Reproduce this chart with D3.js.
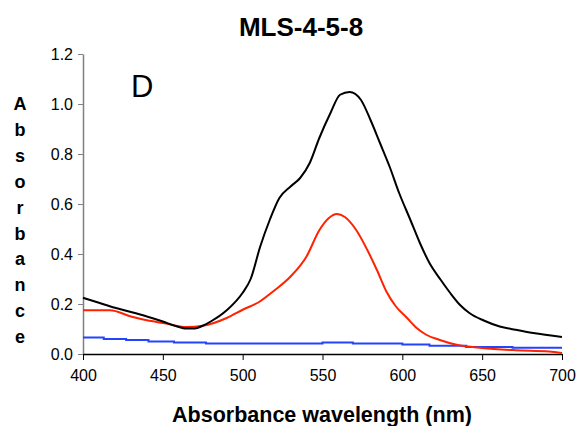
<!DOCTYPE html>
<html>
<head>
<meta charset="utf-8">
<script src="https://cdn.jsdelivr.net/npm/d3@7"></script>
<style>
  body { margin: 0; background: #fff; }
  svg { display: block; font-family: "Liberation Sans", Arial, sans-serif; }
</style>
</head>
<body>
<div id="chart"></div>
<script>
// Absorbance spectra
var blackWave = [400, 410, 420, 430, 440, 450, 458, 465, 470, 475, 480, 490, 500, 505, 511, 517, 523, 530, 536, 542, 548, 555, 561, 567, 574, 580, 586, 592, 598, 605, 611, 617, 624, 630, 636, 642, 651, 661, 671, 682, 700];
var blackAbs  = [0.225, 0.205, 0.185, 0.168, 0.15, 0.13, 0.112, 0.102, 0.102, 0.113, 0.13, 0.175, 0.245, 0.3, 0.43, 0.537, 0.624, 0.67, 0.704, 0.764, 0.864, 0.964, 1.037, 1.048, 1.017, 0.937, 0.844, 0.75, 0.644, 0.537, 0.444, 0.364, 0.297, 0.244, 0.197, 0.164, 0.134, 0.11, 0.097, 0.084, 0.068];

var redWave = [400, 410, 417, 430, 440, 450, 465, 475, 490, 500, 510, 520, 530, 540, 548, 554, 559, 564, 571, 578, 584, 590, 596, 603, 609, 615, 623, 634, 650, 671, 692, 700];
var redAbs  = [0.175, 0.175, 0.175, 0.15, 0.135, 0.124, 0.108, 0.113, 0.144, 0.177, 0.207, 0.255, 0.31, 0.39, 0.495, 0.544, 0.56, 0.548, 0.497, 0.417, 0.337, 0.25, 0.19, 0.144, 0.104, 0.077, 0.057, 0.037, 0.024, 0.015, 0.01, 0.004];

var blueWave = [400, 413, 427, 441, 457, 477, 550, 569, 600, 617, 640, 669, 700];
var blueAbs  = [0.066, 0.06, 0.056, 0.05, 0.046, 0.042, 0.046, 0.042, 0.038, 0.033, 0.028, 0.025, 0.025];

var xTicks = [400, 450, 500, 550, 600, 650, 700];
var yTicks = [0, 0.2, 0.4, 0.6, 0.8, 1.0, 1.2];
var yLetters = ['A', 'b', 's', 'o', 'r', 'b', 'a', 'n', 'c', 'e'];

// Plot frame in pixels
var W = 579, H = 426;
var LEFT = 83, RIGHT = 562, TOP = 54, BOTTOM = 354;

var svg = d3.select('#chart').append('svg')
  .attr('width', W)
  .attr('height', H);

var x = d3.scaleLinear().domain([400, 700]).range([LEFT, RIGHT]);
var y = d3.scaleLinear().domain([0, 1.2]).range([BOTTOM, TOP]);

// Y axis (grey)
var yAxis = svg.append('g')
  .attr('transform', 'translate(' + LEFT + ',0)')
  .call(d3.axisLeft(y).tickValues(yTicks).tickFormat(d3.format('.1f'))
    .tickSizeInner(5).tickSizeOuter(0).tickPadding(5));
yAxis.select('.domain').attr('stroke', '#808080').attr('stroke-width', 1.5);
yAxis.selectAll('.tick line').attr('stroke', '#808080');
yAxis.selectAll('text').attr('font-size', 16).attr('fill', '#000')
  .attr('font-family', '"Liberation Sans", Arial, sans-serif');

// X axis (black)
var xAxis = svg.append('g')
  .attr('transform', 'translate(0,' + BOTTOM + ')')
  .call(d3.axisBottom(x).tickValues(xTicks).tickFormat(d3.format('d'))
    .tickSizeInner(6).tickSizeOuter(0).tickPadding(10));
xAxis.select('.domain').attr('stroke', '#000').attr('stroke-width', 1.5);
xAxis.selectAll('.tick line').attr('stroke', '#000');
xAxis.selectAll('text').attr('font-size', 16).attr('fill', '#000')
  .attr('font-family', '"Liberation Sans", Arial, sans-serif');

// Series
function pts(wave, abs) {
  return wave.map(function(w, i) { return [w, abs[i]]; });
}

var smooth = d3.line()
  .x(function(d) { return x(d[0]); })
  .y(function(d) { return y(d[1]); })
  .curve(d3.curveMonotoneX);

var stepped = d3.line()
  .x(function(d) { return x(d[0]); })
  .y(function(d) { return y(d[1]); })
  .curve(d3.curveStepAfter);

svg.append('path')
  .datum(pts(blueWave, blueAbs))
  .attr('d', stepped)
  .attr('fill', 'none')
  .attr('stroke', '#2244ff')
  .attr('stroke-width', 2);

svg.append('path')
  .datum(pts(redWave, redAbs))
  .attr('d', smooth)
  .attr('fill', 'none')
  .attr('stroke', '#ff2200')
  .attr('stroke-width', 2);

svg.append('path')
  .datum(pts(blackWave, blackAbs))
  .attr('d', smooth)
  .attr('fill', 'none')
  .attr('stroke', '#000')
  .attr('stroke-width', 2);

// Title
svg.append('text')
  .attr('x', 301)
  .attr('y', 36)
  .attr('text-anchor', 'middle')
  .attr('font-size', 26)
  .attr('font-weight', 'bold')
  .text('MLS-4-5-8');

// Panel letter
svg.append('text')
  .attr('x', 131)
  .attr('y', 97)
  .attr('font-size', 31)
  .text('D');

// X axis title
svg.append('text')
  .attr('x', 322)
  .attr('y', 422)
  .attr('text-anchor', 'middle')
  .attr('font-size', 21.5)
  .attr('font-weight', 'bold')
  .text('Absorbance wavelength (nm)');

// Y axis title, stacked letters
svg.append('g').selectAll('text')
  .data(yLetters)
  .enter().append('text')
  .attr('x', 20)
  .attr('y', function(d, i) { return 110 + i * 25.9; })
  .attr('text-anchor', 'middle')
  .attr('font-size', 18)
  .attr('font-weight', 'bold')
  .text(function(d) { return d; });
</script>
</body>
</html>
